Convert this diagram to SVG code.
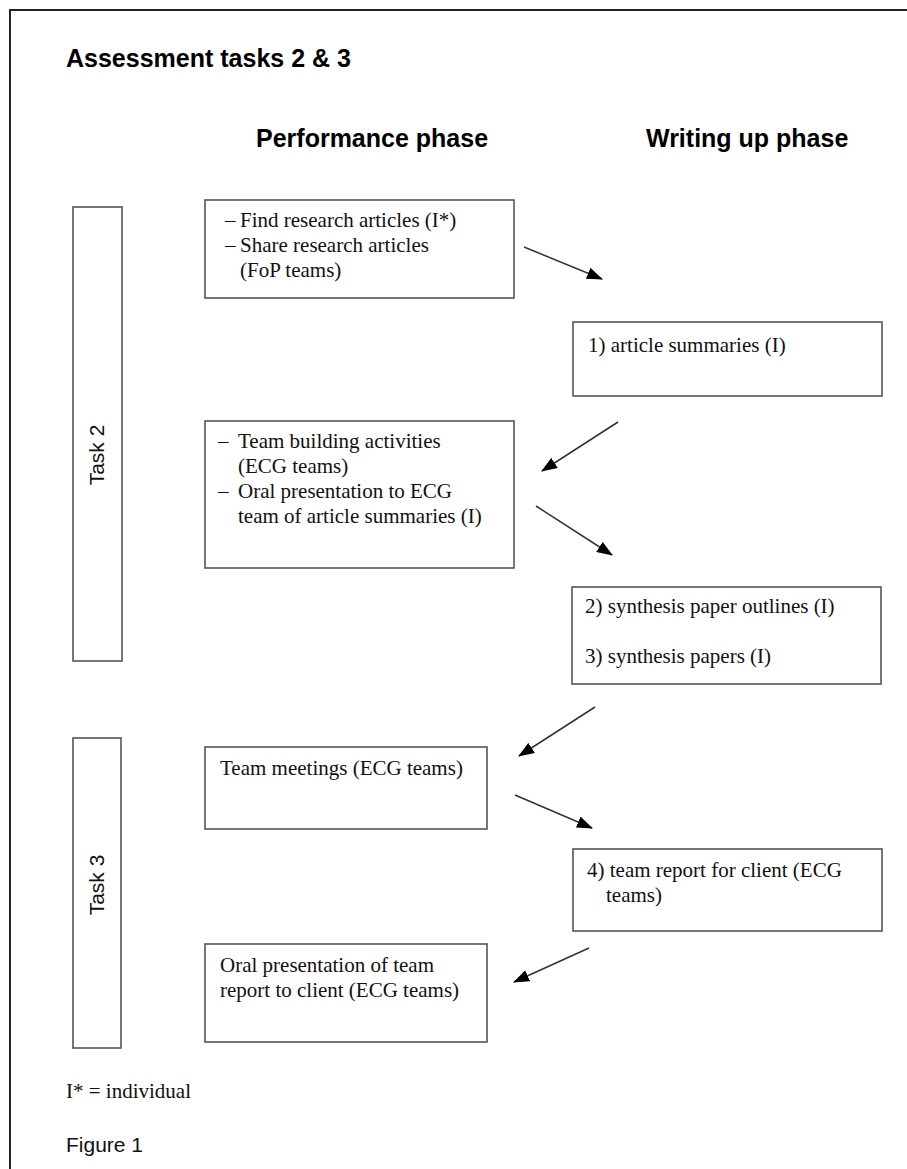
<svg xmlns="http://www.w3.org/2000/svg" width="907" height="1169" viewBox="0 0 907 1169">
<style>
.box{fill:#fff;stroke:#555;stroke-width:1.6}
.t{font-family:"Liberation Serif","Times New Roman",serif;font-size:21px;fill:#111}
.h{font-family:"Liberation Sans",Arial,sans-serif;font-weight:bold;font-size:25px;fill:#000}
.s{font-family:"Liberation Sans",Arial,sans-serif;font-size:21px;fill:#111}
.c{stroke:#333;stroke-width:1.5;fill:none;marker-end:url(#ah)}
</style>
<defs>
<marker id="ah" markerUnits="userSpaceOnUse" markerWidth="16" markerHeight="12" refX="15" refY="6" orient="auto">
<path d="M0,0 L16,6 L0,12 z" fill="#000"/>
</marker>
</defs>
<rect width="907" height="1169" fill="#fff"/>
<path d="M10,1169 V10 H907" fill="none" stroke="#222" stroke-width="2"/>
<text class="h" x="66" y="67">Assessment tasks 2 &amp; 3</text>
<text class="h" x="256" y="147">Performance phase</text>
<text class="h" x="646" y="147">Writing up phase</text>

<g id="task2">
<rect class="box" x="73" y="207" width="49" height="454"/>
<text class="s" transform="translate(104,455) rotate(-90)" text-anchor="middle">Task 2</text>
</g>
<g id="task3">
<rect class="box" x="73" y="738" width="48" height="310"/>
<text class="s" transform="translate(104,885) rotate(-90)" text-anchor="middle">Task 3</text>
</g>

<g id="boxA">
<rect class="box" x="205" y="200" width="309" height="98"/>
<text class="t" x="225" y="227">–</text><text class="t" x="240" y="227">Find research articles (I*)</text>
<text class="t" x="225" y="252">–</text><text class="t" x="240" y="252">Share research articles</text>
<text class="t" x="240" y="277">(FoP teams)</text>
</g>
<g id="boxB">
<rect class="box" x="573" y="322" width="309" height="74"/>
<text class="t" x="588" y="352">1) article summaries (I)</text>
</g>
<g id="boxC">
<rect class="box" x="205" y="421" width="309" height="147"/>
<text class="t" x="218" y="448">–</text><text class="t" x="238" y="448">Team building activities</text>
<text class="t" x="238" y="473">(ECG teams)</text>
<text class="t" x="218" y="498">–</text><text class="t" x="238" y="498">Oral presentation to ECG</text>
<text class="t" x="238" y="523">team of article summaries (I)</text>
</g>
<g id="boxD">
<rect class="box" x="572" y="587" width="309" height="97"/>
<text class="t" x="585" y="613">2) synthesis paper outlines (I)</text>
<text class="t" x="585" y="663">3) synthesis papers (I)</text>
</g>
<g id="boxE">
<rect class="box" x="205" y="747" width="282" height="82"/>
<text class="t" x="220" y="775">Team meetings (ECG teams)</text>
</g>
<g id="boxF">
<rect class="box" x="573" y="849" width="309" height="82"/>
<text class="t" x="587" y="877">4) team report for client (ECG</text>
<text class="t" x="606" y="902">teams)</text>
</g>
<g id="boxG">
<rect class="box" x="205" y="944" width="282" height="98"/>
<text class="t" x="220" y="972">Oral presentation of team</text>
<text class="t" x="220" y="997">report to client (ECG teams)</text>
</g>

<g id="connectors">
<line class="c" x1="524" y1="247" x2="602" y2="279"/>
<line class="c" x1="618" y1="422" x2="542" y2="471"/>
<line class="c" x1="536" y1="506" x2="612" y2="555"/>
<line class="c" x1="595" y1="707" x2="519" y2="756"/>
<line class="c" x1="515" y1="795" x2="592" y2="828"/>
<line class="c" x1="589" y1="948" x2="514" y2="982"/>
</g>

<text class="t" x="66" y="1098">I* = individual</text>
<text class="s" x="66" y="1152" font-size="22">Figure 1</text>
</svg>
